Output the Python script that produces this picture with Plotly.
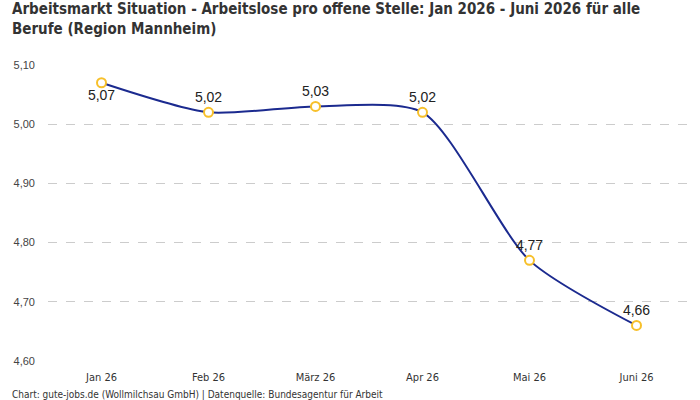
import plotly.graph_objects as go

months = ["Jan 26", "Feb 26", "März 26", "Apr 26", "Mai 26", "Juni 26"]
values = [5.07, 5.02, 5.03, 5.02, 4.77, 4.66]
labels = ["5,07", "5,02", "5,03", "5,02", "4,77", "4,66"]
label_pos = ["bottom center", "top center", "top center", "top center", "top center", "top center"]
y_ticks = [4.6, 4.7, 4.8, 4.9, 5.0, 5.1]
y_tick_text = ["4,60", "4,70", "4,80", "4,90", "5,00", "5,10"]

COND = "DejaVu Sans Condensed, Roboto"

fig = go.Figure()
fig.add_trace(go.Scatter(
    x=months, y=values, mode="lines+markers+text",
    line=dict(color="#1b2a8f", width=2, shape="spline", smoothing=0.7),
    marker=dict(size=9, color="white", line=dict(color="#f7c02b", width=2)),
    text=labels, textposition=label_pos,
    textfont=dict(family="Liberation Sans", size=14, color="#222"),
    cliponaxis=False, hoverinfo="skip",
))

fig.update_layout(
    width=700, height=400,
    margin=dict(l=48, r=10, t=65, b=39),
    paper_bgcolor="white", plot_bgcolor="white",
    showlegend=False,
    xaxis=dict(
        type="category", range=[-0.5, 5.5], showgrid=False, zeroline=False,
        showline=False, ticks="", ticklabelstandoff=8,
        tickfont=dict(family=COND, size=11, color="#333"),
    ),
    yaxis=dict(
        range=[4.6, 5.1], tickvals=y_ticks, ticktext=y_tick_text,
        showgrid=True, gridcolor="#cccccc", griddash="dash", gridwidth=1,
        zeroline=False, showline=False, ticks="", ticklabelstandoff=12,
        tickfont=dict(family="Liberation Sans", size=11, color="#444"),
    ),
    annotations=[
        dict(
            text="<b>Arbeitsmarkt Situation - Arbeitslose pro offene Stelle: Jan 2026 - Juni 2026 für alle<br>Berufe (Region Mannheim)</b>",
            xref="paper", yref="paper", x=-0.059, y=1.227, xanchor="left", yanchor="top",
            align="left", showarrow=False,
            font=dict(family=COND, size=15, color="#333"),
        ),
        dict(
            text="Chart: gute-jobs.de (Wollmilchsau GmbH) | Datenquelle: Bundesagentur für Arbeit",
            xref="paper", yref="paper", x=-0.059, y=-0.088, xanchor="left", yanchor="top",
            showarrow=False, font=dict(family=COND, size=10, color="#333"),
        ),
    ],
)

fig.write_html("out.html")
